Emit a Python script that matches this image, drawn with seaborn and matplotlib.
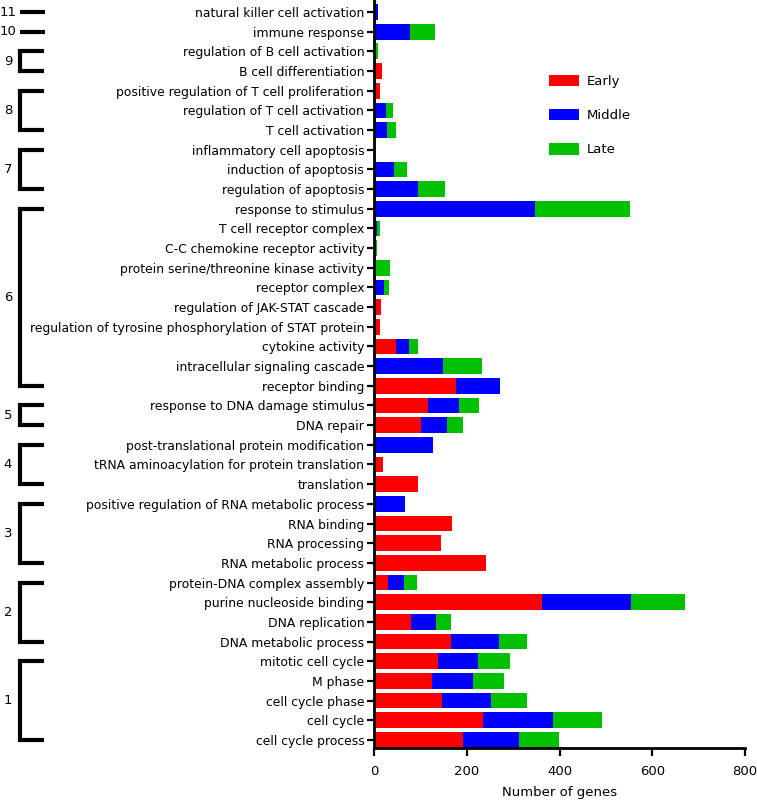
import matplotlib
matplotlib.use("Agg")
import numpy as np
import pandas as pd
import matplotlib.pyplot as plt
import matplotlib.transforms as mtransforms
from matplotlib.patches import Patch
import seaborn as sns

# GO terms, top to bottom
terms = [
    "natural killer cell activation",
    "immune response",
    "regulation of B cell activation",
    "B cell differentiation",
    "positive regulation of T cell proliferation",
    "regulation of T cell activation",
    "T cell activation",
    "inflammatory cell apoptosis",
    "induction of apoptosis",
    "regulation of apoptosis",
    "response to stimulus",
    "T cell receptor complex",
    "C-C chemokine receptor activity",
    "protein serine/threonine kinase activity",
    "receptor complex",
    "regulation of JAK-STAT cascade",
    "regulation of tyrosine phosphorylation of STAT protein",
    "cytokine activity",
    "intracellular signaling cascade",
    "receptor binding",
    "response to DNA damage stimulus",
    "DNA repair",
    "post-translational protein modification",
    "tRNA aminoacylation for protein translation",
    "translation",
    "positive regulation of RNA metabolic process",
    "RNA binding",
    "RNA processing",
    "RNA metabolic process",
    "protein-DNA complex assembly",
    "purine nucleoside binding",
    "DNA replication",
    "DNA metabolic process",
    "mitotic cell cycle",
    "M phase",
    "cell cycle phase",
    "cell cycle",
    "cell cycle process",
]

# number of genes per stage (segment sizes)
early = [0, 0, 0, 17, 14, 0, 0, 0, 0, 0,
         0, 0, 0, 0, 0, 16, 14, 48, 0, 176,
         116, 101, 0, 20, 95, 0, 168, 144, 241, 31,
         363, 79, 167, 138, 124, 147, 234, 192]
middle = [8, 78, 0, 0, 0, 25, 29, 0, 43, 95,
          347, 7, 0, 0, 21, 0, 0, 27, 149, 95,
          67, 56, 128, 0, 0, 66, 0, 0, 0, 33,
          191, 54, 102, 87, 90, 106, 151, 121]
late = [0, 53, 9, 0, 0, 15, 18, 5, 29, 59,
        204, 5, 7, 35, 12, 0, 0, 20, 83, 0,
        44, 35, 0, 0, 0, 0, 0, 0, 0, 28,
        116, 32, 60, 68, 67, 77, 107, 86]

# cluster number of each term
group = [11, 10, 9, 9, 8, 8, 8, 7, 7, 7,
         6, 6, 6, 6, 6, 6, 6, 6, 6, 6,
         5, 5, 4, 4, 4, 3, 3, 3, 3, 2,
         2, 2, 2, 1, 1, 1, 1, 1]

stages = ["Early", "Middle", "Late"]
colors = {"Early": "#ff0000", "Middle": "#0000ff", "Late": "#00c000"}

df = pd.DataFrame({"term": terms, "Early": early, "Middle": middle, "Late": late})
df["Early_cum"] = df["Early"]
df["Middle_cum"] = df["Early"] + df["Middle"]
df["Late_cum"] = df["Middle_cum"] + df["Late"]

sns.set_style("ticks")
plt.rcParams["font.family"] = ["DejaVu Sans"]
plt.rcParams["text.color"] = "black"
plt.rcParams["axes.labelcolor"] = "black"

W, H = 757, 802
fig = plt.figure(figsize=(W / 100, H / 100), dpi=100)
ax = fig.add_axes([374 / W, 54 / H, 371 / W, 748 / H])

# stacked bars: draw totals first, then overlay the lower segments
for s in ["Late", "Middle", "Early"]:
    sns.barplot(data=df, x=s + "_cum", y="term", color=colors[s], saturation=1,
                width=0.8, linewidth=0, ax=ax)

n = len(terms)
ax.set_ylim(n - 1 + 0.41, -0.61)
ax.set_xlim(0, 800)
ax.set_xticks(np.arange(0, 801, 200))
ax.set_ylabel("")
ax.set_xlabel("Number of genes", fontsize=9.5, labelpad=6, color="black")
ax.tick_params(axis="y", labelsize=8.9, length=5, width=1.6, pad=2, colors="black")
ax.tick_params(axis="x", labelsize=9.5, length=6, width=1.6, pad=6, colors="black")
sns.despine(ax=ax)
for sp in ["left", "bottom"]:
    ax.spines[sp].set_linewidth(2)
    ax.spines[sp].set_color("black")

handles = [Patch(facecolor=colors[s], edgecolor="none") for s in stages]
ax.legend(handles, stages, loc="upper left", bbox_to_anchor=(542 / W, 1 - 68 / H),
          bbox_transform=fig.transFigure, frameon=False, fontsize=9.5,
          handlelength=2.3, handleheight=0.95, labelspacing=1.6,
          handletextpad=0.6, borderpad=0)

# cluster brackets on the left
trans = mtransforms.blended_transform_factory(fig.transFigure, ax.transData)
x0, x1, xt = 20 / W, 44 / W, 8 / W
grp = np.array(group)
for g in sorted(set(group)):
    idx = np.where(grp == g)[0]
    a, b = idx.min(), idx.max()
    if a == b:
        ax.plot([x0, x1 + 1 / W], [a, a], color="black", lw=3, transform=trans,
                clip_on=False, solid_capstyle="butt")
    else:
        ax.plot([x1, x0, x0, x1], [a, a, b, b], color="black", lw=3, transform=trans,
                clip_on=False, solid_capstyle="butt", solid_joinstyle="miter")
    ax.text(xt, (a + b) / 2, str(g), transform=trans, ha="center", va="center",
            fontsize=9.5, color="black")

fig.savefig("out.png", dpi=100)
